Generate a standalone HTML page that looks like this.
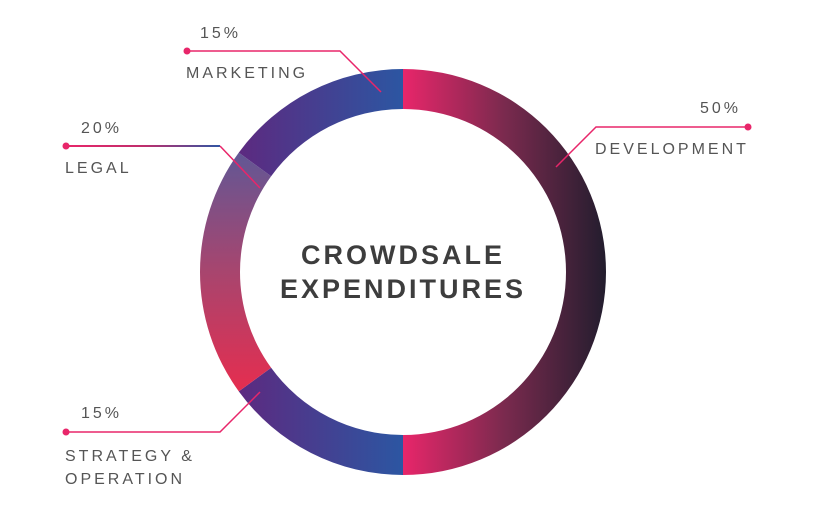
<!DOCTYPE html>
<html><head><meta charset="utf-8"><style>
body{margin:0;background:#fff;width:829px;height:505px;overflow:hidden}
svg text{font-family:"Liberation Sans",sans-serif;fill:#555}
.lbl{font-size:16px;letter-spacing:3px}
.ctr{font-size:27px;font-weight:bold;letter-spacing:3px;fill:#3d3d3d}
</style></head><body>
<svg id="chart" width="829" height="505" viewBox="0 0 829 505">
<defs>
<linearGradient id="gDev" gradientUnits="userSpaceOnUse" x1="403" y1="0" x2="606" y2="0"><stop offset="0" stop-color="#e8266a"/><stop offset="0.5" stop-color="#7a2a4e"/><stop offset="1" stop-color="#231d2e"/></linearGradient>
<linearGradient id="gStr" gradientUnits="userSpaceOnUse" x1="240" y1="0" x2="403" y2="0"><stop offset="0" stop-color="#5c2a80"/><stop offset="1" stop-color="#2c56a2"/></linearGradient>
<linearGradient id="gMkt" gradientUnits="userSpaceOnUse" x1="240" y1="0" x2="403" y2="0"><stop offset="0" stop-color="#5c2a80"/><stop offset="1" stop-color="#2c56a2"/></linearGradient>
<linearGradient id="gLeg" gradientUnits="userSpaceOnUse" x1="0" y1="153" x2="0" y2="392"><stop offset="0" stop-color="#625795"/><stop offset="0.5" stop-color="#a8456e"/><stop offset="1" stop-color="#e62d4f"/></linearGradient>
<linearGradient id="gLine" gradientUnits="userSpaceOnUse" x1="66" y1="0" x2="220" y2="0"><stop offset="0" stop-color="#e8266a"/><stop offset="0.5" stop-color="#c02e6c"/><stop offset="1" stop-color="#2f55a3"/></linearGradient>
</defs>
<g id="slices"></g>
<text class="ctr" x="403" y="264" text-anchor="middle">CROWDSALE</text>
<text class="ctr" x="403" y="298" text-anchor="middle">EXPENDITURES</text>
<g>
<polyline points="187,51 340,51 381,92" fill="none" stroke="#e8266a" stroke-width="1.5"/><circle cx="187" cy="51" r="3.5" fill="#e8266a"/>
<text class="lbl" x="200" y="38" id="pMkt">15%</text><text class="lbl" x="186" y="78">MARKETING</text></g>
<g>
<polyline points="748,127 596,127 556,167" fill="none" stroke="#e8266a" stroke-width="1.5"/><circle cx="748" cy="127" r="3.5" fill="#e8266a"/>
<text class="lbl" x="741" y="113" text-anchor="end" id="pDev">50%</text><text class="lbl" x="595" y="154">DEVELOPMENT</text></g>
<g>
<polyline points="66,146 220,146" fill="none" stroke="url(#gLine)" stroke-width="2"/><polyline points="220,146 260,188" fill="none" stroke="#e8266a" stroke-width="1.5"/><circle cx="66" cy="146" r="3.5" fill="#e8266a"/>
<text class="lbl" x="81" y="133" id="pLeg">20%</text><text class="lbl" x="65" y="173">LEGAL</text></g>
<g>
<polyline points="66,432 220,432 260,392" fill="none" stroke="#e8266a" stroke-width="1.5"/><circle cx="66" cy="432" r="3.5" fill="#e8266a"/>
<text class="lbl" x="81" y="418" id="pStr">15%</text><text class="lbl" x="65" y="461">STRATEGY &amp;</text><text class="lbl" x="65" y="484">OPERATION</text></g>
</svg>
<script>
const categories=["Development","Strategy & Operation","Legal","Marketing"];
const values=[50,15,20,15];
const fills=["url(#gDev)","url(#gStr)","url(#gLeg)","url(#gMkt)"];
const cx=403,cy=272,R=203,r=163;
const total=values.reduce((a,b)=>a+b,0);
function pt(a,rad){return [cx+rad*Math.sin(a),cy-rad*Math.cos(a)];}
const g=document.getElementById('slices');
let acc=0;
values.forEach((v,i)=>{
 const a0=acc/total*2*Math.PI;acc+=v;const a1=acc/total*2*Math.PI;
 const lg=(a1-a0)>Math.PI?1:0;
 const p0=pt(a0,R),p1=pt(a1,R),q1=pt(a1,r),q0=pt(a0,r);
 const p=document.createElementNS('http://www.w3.org/2000/svg','path');
 p.setAttribute('d',`M${p0} A${R},${R} 0 ${lg} 1 ${p1} L${q1} A${r},${r} 0 ${lg} 0 ${q0} Z`);
 p.setAttribute('fill',fills[i]);
 
 
 g.appendChild(p);
});
["pDev","pStr","pLeg","pMkt"].forEach((id,i)=>{document.getElementById(id).textContent=values[i]+'%';});
</script>
</body></html>
